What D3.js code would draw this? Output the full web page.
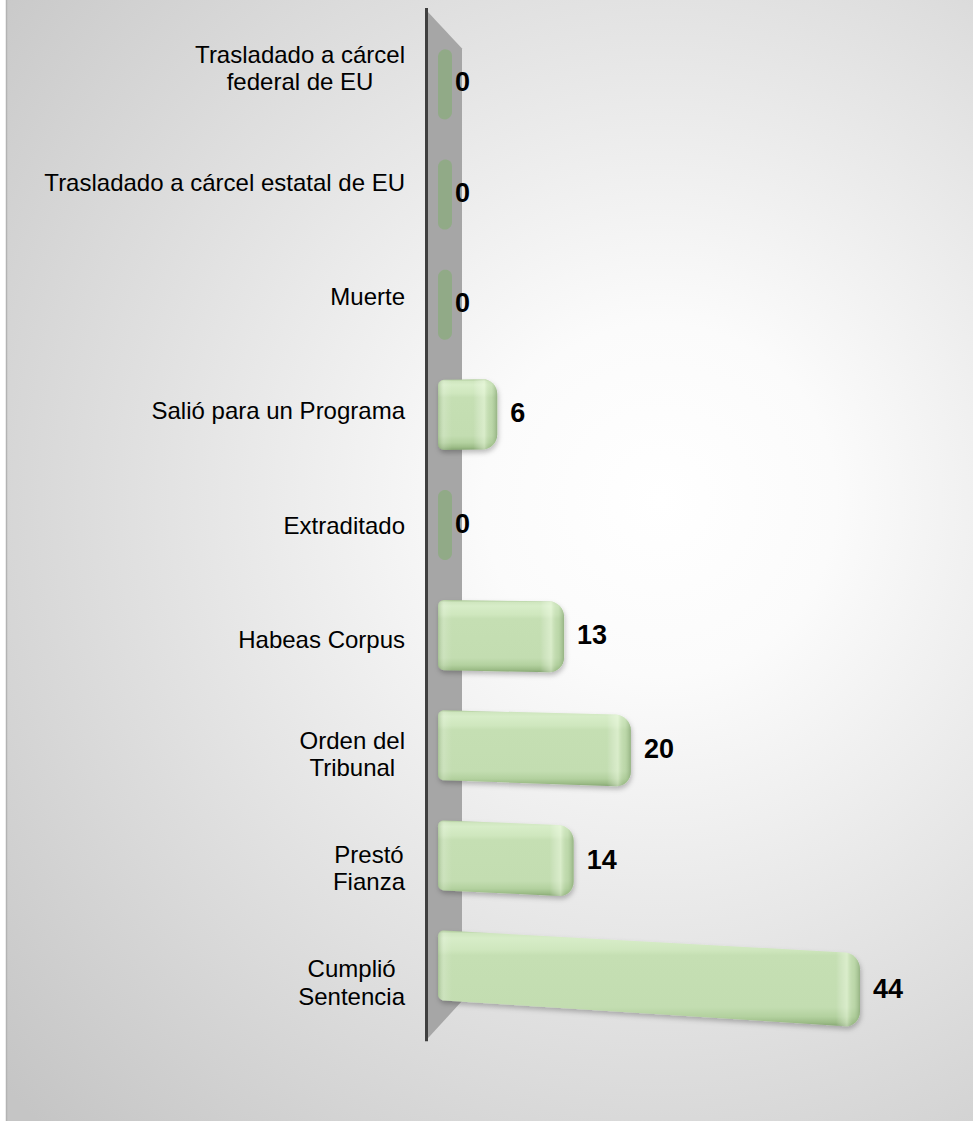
<!DOCTYPE html>
<html lang="es">
<head>
  <meta charset="UTF-8">
  <title>Egresos</title>
  <script src="https://d3js.org/d3.v7.min.js"></script>
  <style>
    body { margin: 0; background: #fff; }
    svg { display: block; }
    text { font-family: "Liberation Sans", Arial, sans-serif; }
  </style>
</head>
<body>
<svg width="973" height="1121"></svg>
<script>
  // data
  const categories = [
    "Trasladado a cárcel federal de EU", "Trasladado a cárcel estatal de EU", "Muerte",
    "Salió para un Programa", "Extraditado", "Habeas Corpus", "Orden del Tribunal",
    "Prestó Fianza", "Cumplió Sentencia"
  ];
  const labelLines = [
    ["Trasladado a cárcel", "federal de EU"], ["Trasladado a cárcel estatal de EU"], ["Muerte"],
    ["Salió para un Programa"], ["Extraditado"], ["Habeas Corpus"], ["Orden del", "Tribunal"],
    ["Prestó", "Fianza"], ["Cumplió", "Sentencia"]
  ];
  const values = [0, 0, 0, 6, 0, 13, 20, 14, 44];

  const svg = d3.select("svg");
  const defs = svg.append("defs");

  // background panel
  const bg = defs.append("radialGradient").attr("id", "bg")
    .attr("gradientUnits", "userSpaceOnUse")
    .attr("cx", 660).attr("cy", 500).attr("r", 880);
  bg.append("stop").attr("offset", 0).attr("stop-color", "#ffffff");
  bg.append("stop").attr("offset", 0.2).attr("stop-color", "#fbfbfb");
  bg.append("stop").attr("offset", 1).attr("stop-color", "#c5c5c5");
  svg.append("rect").attr("x", 6.5).attr("y", -2).attr("width", 975).attr("height", 1130)
    .attr("fill", "url(#bg)").attr("stroke", "#b3b3b3").attr("stroke-width", 1.5);

  // bar shading
  const g1 = defs.append("linearGradient").attr("id", "barFill")
    .attr("x1", 0).attr("y1", 0).attr("x2", 0).attr("y2", 1);
  [[0, "#a9c794"], [0.03, "#cfe6bf"], [0.08, "#d7edc8"], [0.2, "#cfe7be"], [0.26, "#c5dfb3"],
   [0.8, "#c3ddb1"], [0.9, "#b3d19f"], [0.96, "#9dbd88"], [1, "#86a673"]]
    .forEach(([o, c]) => g1.append("stop").attr("offset", o).attr("stop-color", c));

  const shadow = defs.append("filter").attr("id", "shadow")
    .attr("x", "-10%").attr("y", "-20%").attr("width", "130%").attr("height", "150%");
  shadow.append("feDropShadow").attr("dx", 1).attr("dy", 3).attr("stdDeviation", 2.5)
    .attr("flood-color", "#000").attr("flood-opacity", 0.25);

  // scales
  const y = d3.scaleBand().domain(categories).range([30, 1020])
    .paddingInner(0.364).paddingOuter(0.18);
  const x = d3.scaleLinear().domain([0, 44]).range([440, 860]);

  // mild perspective: y spreads out from vy as x grows
  const vy = 520, x0 = 438, dist = 7500;
  const proj = (px, py) => [px, vy + (py - vy) * (px - x0 + dist) / dist];
  const depth = (py, f) => vy + (py - vy) * f;
  const frontF = 1.0386, backF = 0.962;

  // wall
  const [r0, r1] = y.range();
  const wall = [[427, depth(r0, frontF)], [462, depth(r0, backF)],
                [462, depth(r1, backF)], [427, depth(r1, frontF)]];
  svg.append("path").attr("d", d3.line()(wall) + "Z").attr("fill", "#a6a6a6");
  svg.append("line").attr("x1", 426.5).attr("x2", 426.5)
    .attr("y1", depth(r0, frontF) - 3).attr("y2", depth(r1, frontF) + 2)
    .attr("stroke", "#3f3f3f").attr("stroke-width", 3);

  // rounded rect outline, every point passed through the projection
  function barOutline(xa, ya, xb, yb, rl, rr) {
    const pts = [];
    const arc = (cx, cy, r, a0, a1) => {
      for (let i = 0; i <= 8; i++) {
        const a = a0 + (a1 - a0) * i / 8;
        pts.push(proj(cx + r * Math.cos(a), cy + r * Math.sin(a)));
      }
    };
    arc(xa + rl, ya + rl, rl, Math.PI, 1.5 * Math.PI);
    arc(xb - rr, ya + rr, rr, 1.5 * Math.PI, 2 * Math.PI);
    arc(xb - rr, yb - rr, rr, 0, 0.5 * Math.PI);
    arc(xa + rl, yb - rl, rl, 0.5 * Math.PI, Math.PI);
    return d3.line()(pts) + "Z";
  }

  const data = categories.map((c, i) => ({ cat: c, value: values[i], lines: labelLines[i] }));

  const bars = svg.append("g");
  data.forEach((d, i) => {
    const top = y(d.cat), bot = top + y.bandwidth();
    if (d.value === 0) {
      bars.append("path").attr("d", barOutline(438, top, 452, bot, 7, 7))
        .attr("fill", "#8fab84").attr("opacity", 0.9);
      return;
    }
    const xa = 438, xb = x(d.value);
    const outline = barOutline(xa, top, xb, bot, 6, 15);
    bars.append("path").attr("d", outline)
      .attr("fill", "url(#barFill)").attr("filter", "url(#shadow)");
    // end bevel
    const w = xb - xa;
    const eg = defs.append("linearGradient").attr("id", "end" + i)
      .attr("x1", 0).attr("y1", 0).attr("x2", 1).attr("y2", 0);
    [[0, "#fff", 0], [Math.max(0, (w - 24) / w), "#fff", 0], [(w - 13) / w, "#f4ffe8", 0.45],
     [(w - 6) / w, "#9fbf8a", 0.2], [1, "#6f8f5d", 0.55]]
      .forEach(([o, c, a]) => eg.append("stop").attr("offset", o)
        .attr("stop-color", c).attr("stop-opacity", a));
    bars.append("path").attr("d", outline).attr("fill", `url(#end${i})`);
    const lg = defs.append("linearGradient").attr("id", "start" + i)
      .attr("x1", 0).attr("y1", 0).attr("x2", 1).attr("y2", 0);
    [[0, "#6f8f5d", 0.35], [6 / w, "#ffffff", 0.15], [14 / w, "#ffffff", 0]]
      .forEach(([o, c, a]) => lg.append("stop").attr("offset", o)
        .attr("stop-color", c).attr("stop-opacity", a));
    bars.append("path").attr("d", outline).attr("fill", `url(#start${i})`);
  });

  // value labels
  svg.append("g").selectAll("text").data(data).join("text")
    .attr("x", d => d.value === 0 ? 455 : x(d.value) + 13)
    .attr("y", d => {
      const c = y(d.cat) + y.bandwidth() / 2;
      const ex = d.value === 0 ? 452 : x(d.value);
      return proj(ex, c)[1] + 7.5;
    })
    .attr("font-size", 27).attr("font-weight", "bold").attr("fill", "#000")
    .text(d => d.value);

  // category labels, centred block with right edge at 405
  const fs = 24, lh = 27.5;
  const labels = svg.append("g").attr("font-size", fs).attr("fill", "#000");
  data.forEach(d => {
    const c = depth(y(d.cat) + y.bandwidth() / 2, frontF);
    const n = d.lines.length;
    const t = labels.append("text").attr("text-anchor", "middle");
    const spans = d.lines.map((l, k) => t.append("tspan")
      .attr("y", c - (n - 1) * lh / 2 + k * lh + 8.6).text(l));
    const wmax = d3.max(spans, s => s.node().getComputedTextLength());
    spans.forEach(s => s.attr("x", 405 - wmax / 2));
  });
</script>
</body>
</html>
